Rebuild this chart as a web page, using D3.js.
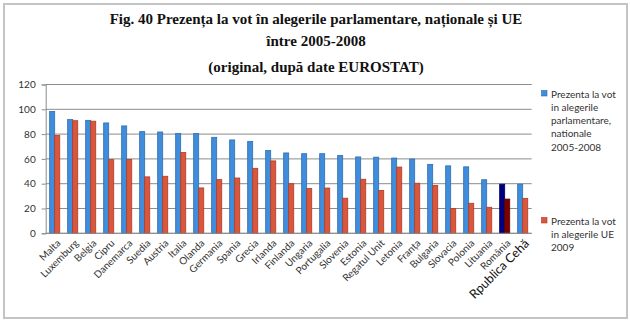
<!DOCTYPE html>
<html>
<head>
<meta charset="utf-8">
<script src="https://cdn.jsdelivr.net/npm/d3@7"></script>
<style>
  html, body { margin: 0; padding: 0; background: #fff; }
  svg { display: block; }
</style>
</head>
<body>
<svg id="chart" width="630" height="321"></svg>
<script>
// Voter turnout by country: national parliamentary elections (2005-2008) vs. EU elections (2009)
const countries = ["Malta", "Luxemburg", "Belgia", "Cipru", "Danemarca", "Suedia", "Austria", "Italia",
  "Olanda", "Germania", "Spania", "Grecia", "Irlanda", "Finlanda", "Ungaria", "Portugalia", "Slovenia",
  "Estonia", "Regatul Unit", "Letonia", "Franța", "Bulgaria", "Slovacia", "Polonia", "Lituania",
  "România", "Rpublica Cehă"];
const nationalTurnout = [98.2, 91.7, 91.1, 89.0, 86.6, 82.0, 81.7, 80.5, 80.4, 77.4, 75.3, 74.1, 66.8,
  64.8, 64.2, 64.2, 62.8, 61.6, 61.4, 60.7, 59.9, 55.6, 54.4, 53.6, 43.2, 39.6, 39.6];
const euTurnout = [78.8, 90.8, 90.4, 59.4, 59.5, 45.5, 46.0, 65.1, 36.6, 43.3, 44.6, 52.4, 58.4, 40.0,
  36.1, 36.5, 28.3, 43.6, 34.6, 53.4, 40.4, 38.5, 19.9, 24.2, 21.0, 27.6, 28.2];
const yTicks = [0, 20, 40, 60, 80, 100, 120];
const titleLines = ["Fig. 40 Prezența la vot în alegerile parlamentare, naționale și UE",
  "între 2005-2008", "(original, după date EUROSTAT)"];
const legendNational = ["Prezenta la vot", "in alegerile", "parlamentare,", "nationale", "2005-2008"];
const legendEU = ["Prezenta la vot", "in alegerile UE", "2009"];
const highlighted = "România";

const svg = d3.select("#chart");

// outer frame
svg.append("rect").attr("x", 4).attr("y", 4).attr("width", 623).attr("height", 314)
  .attr("fill", "#fff").attr("stroke", "#c4c4c4").attr("stroke-width", 2);

// title
const titleY = [24, 46, 72];
svg.append("g").selectAll("text").data(titleLines).join("text")
  .attr("x", 316).attr("y", (d, i) => titleY[i])
  .attr("text-anchor", "middle")
  .attr("font-family", "'Liberation Serif', 'Times New Roman', serif")
  .attr("font-weight", "bold").attr("font-size", 15).attr("fill", "#111")
  .text(d => d);

const plot = { left: 45.7, right: 531.7, top: 84.5, bottom: 233.3 };

const x = d3.scaleBand().domain(countries)
  .range([plot.left, plot.right]).paddingInner(0.44).paddingOuter(0.22);
const sub = d3.scaleBand().domain(["nat", "eu"]).range([0, x.bandwidth()]);
const y = d3.scaleLinear().domain([0, 120]).range([plot.bottom, plot.top]);

// grid
svg.append("g").selectAll("line").data(yTicks).join("line")
  .attr("x1", plot.left).attr("x2", plot.right)
  .attr("y1", d => y(d)).attr("y2", d => y(d))
  .attr("stroke", "#8c8c8c").attr("stroke-width", 1);

// y axis
const yAxis = svg.append("g").attr("transform", `translate(${plot.left},0)`)
  .call(d3.axisLeft(y).tickValues(yTicks).tickSize(4).tickPadding(6));
yAxis.select(".domain").attr("stroke", "#8c8c8c");
yAxis.selectAll(".tick line").attr("stroke", "#8c8c8c");
yAxis.selectAll("text").attr("font-family", "Lato, 'Liberation Sans', sans-serif")
  .attr("font-size", 10).attr("fill", "#333");

// bars
const rows = countries.map((c, i) => ({ c, nat: nationalTurnout[i], eu: euTurnout[i] }));
const g = svg.append("g");
const grp = g.selectAll("g").data(rows).join("g")
  .attr("transform", d => `translate(${x(d.c)},0)`);
grp.append("rect")
  .attr("x", sub("nat")).attr("width", sub.bandwidth())
  .attr("y", d => y(d.nat)).attr("height", d => y(0) - y(d.nat))
  .attr("fill", d => d.c === highlighted ? "#000080" : "#3f8ddb")
  .attr("stroke", d => d.c === highlighted ? "#00005a" : "#2f6db0").attr("stroke-width", 0.8);
grp.append("rect")
  .attr("x", sub("eu")).attr("width", sub.bandwidth())
  .attr("y", d => y(d.eu)).attr("height", d => y(0) - y(d.eu))
  .attr("fill", d => d.c === highlighted ? "#7a0000" : "#d9573b")
  .attr("stroke", d => d.c === highlighted ? "#5a0000" : "#b03a2a").attr("stroke-width", 0.8);

// x axis line
svg.append("line").attr("x1", plot.left).attr("x2", plot.right)
  .attr("y1", plot.bottom).attr("y2", plot.bottom).attr("stroke", "#8c8c8c");

// x labels, rotated
svg.append("g").selectAll("text").data(countries).join("text")
  .attr("transform", d => `translate(${x(d) + x.bandwidth() / 2 + 4},${plot.bottom + 8}) rotate(-45)`)
  .attr("text-anchor", "end")
  .attr("font-family", "Lato, 'Liberation Sans', sans-serif")
  .attr("font-size", d => d === "Rpublica Cehă" ? 12.5 : 10)
  .attr("fill", d => d === "Rpublica Cehă" ? "#111" : "#333")
  .attr("dy", "0.35em")
  .text(d => d);

// legend
function legendBlock(lines, top, color, stroke) {
  svg.append("rect").attr("x", 541.5).attr("y", top - 3.5).attr("width", 5.5).attr("height", 5.5)
    .attr("fill", color).attr("stroke", stroke).attr("stroke-width", 0.6);
  svg.append("g").selectAll("text").data(lines).join("text")
    .attr("x", 551).attr("y", (d, i) => top + i * 13.3)
    .attr("dy", "0.35em")
    .attr("font-family", "Lato, 'Liberation Sans', sans-serif")
    .attr("font-size", 10).attr("fill", "#333")
    .text(d => d);
}
legendBlock(legendNational, 94, "#3f8ddb", "#2f6db0");
legendBlock(legendEU, 221, "#d9573b", "#b03a2a");
</script>
</body>
</html>
